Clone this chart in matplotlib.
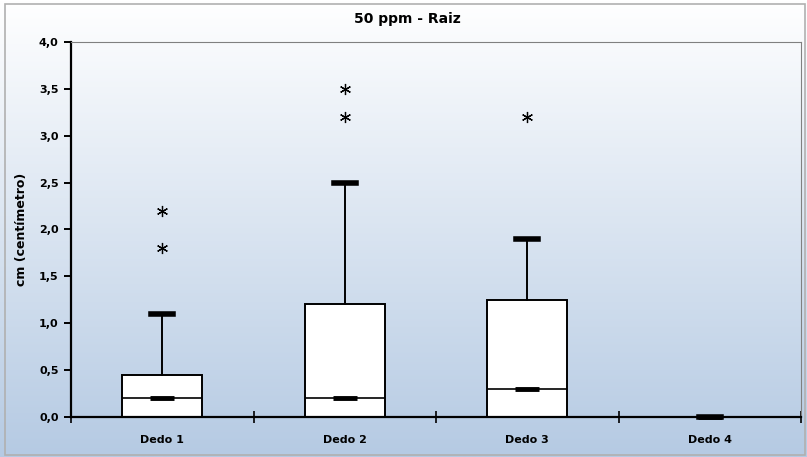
import numpy as np
import matplotlib
matplotlib.use("Agg")
import matplotlib.pyplot as plt
from matplotlib.ticker import FuncFormatter, MultipleLocator
from matplotlib.patches import Rectangle
from matplotlib.colors import LinearSegmentedColormap

# valores (cm)
categorias = ["Dedo 1", "Dedo 2", "Dedo 3", "Dedo 4"]
q1 = [0.0, 0.0, 0.0, 0.0]
mediana = [0.2, 0.2, 0.3, 0.0]
q3 = [0.45, 1.2, 1.25, 0.0]
whis_min = [0.0, 0.0, 0.0, 0.0]
whis_max = [1.1, 2.5, 1.9, 0.0]
outliers = [[1.8, 2.2], [3.2, 3.5], [3.2], []]

fig = plt.figure(figsize=(8.07, 4.57), dpi=100)

# fundo em degrade (branco em cima, azul claro embaixo)
bg = fig.add_axes([0, 0, 1, 1], zorder=-10)
cmap = LinearSegmentedColormap.from_list("bg", ["#ffffff", "#b5cae3"])
grad = np.linspace(0, 1, 256).reshape(-1, 1)
bg.imshow(grad, aspect="auto", cmap=cmap, extent=[0, 1, 0, 1], origin="upper")
bg.set_xlim(0, 1)
bg.set_ylim(0, 1)
bg.axis("off")
fig.patches.append(Rectangle((5 / 807, 2 / 457), 800 / 807, 451 / 457, transform=fig.transFigure,
                             fill=False, edgecolor="#b0b0b0", linewidth=1.2))

ax = fig.add_axes([71 / 807, 40.3 / 457, 730 / 807, 374.7 / 457])
ax.patch.set_alpha(0)

stats = []
for i, nome in enumerate(categorias):
    stats.append({"label": nome, "q1": q1[i], "med": mediana[i], "q3": q3[i],
                  "whislo": whis_min[i], "whishi": whis_max[i], "fliers": outliers[i],
                  "mean": mediana[i]})

pos = np.arange(len(categorias))
bp = ax.bxp(stats, positions=pos, widths=0.44, capwidths=0.12, patch_artist=True, showmeans=True,
            boxprops=dict(facecolor="white", edgecolor="black", linewidth=1.4),
            medianprops=dict(color="black", linewidth=1.2),
            whiskerprops=dict(color="black", linewidth=1.4),
            capprops=dict(color="black", linewidth=4),
            meanprops=dict(marker="_", markersize=17, markeredgewidth=3.5, markeredgecolor="black"),
            flierprops=dict(marker=(6, 2, 0), markersize=8, markeredgecolor="black",
                            markeredgewidth=0.9, linestyle="none"))
# sem traco no limite inferior (fica sobre o eixo)
for c in bp["caps"][0::2]:
    c.set_visible(False)
for c in bp["caps"][1::2]:
    c.set_clip_on(False)
for m in bp["means"]:
    m.set_clip_on(False)
    m.set_zorder(4)

ax.set_xlim(-0.5, len(categorias) - 0.5)
ax.set_ylim(0, 4.0)
ax.yaxis.set_major_locator(MultipleLocator(0.5))
ax.yaxis.set_major_formatter(FuncFormatter(lambda v, p: f"{v:.1f}".replace(".", ",")))
ax.set_xticks(pos)
ax.set_xticklabels(categorias)
ax.set_xticks(np.arange(-0.5, len(categorias)), minor=True)
ax.tick_params(axis="x", which="major", length=0, pad=13, labelsize=8)
ax.tick_params(axis="x", which="minor", direction="inout", length=8, width=1.2)
ax.tick_params(axis="y", direction="out", length=5, width=1.4, labelsize=8, pad=4)
for lab in ax.get_xticklabels() + ax.get_yticklabels():
    lab.set_fontweight("bold")

ax.spines["left"].set_linewidth(1.6)
ax.spines["bottom"].set_linewidth(1.6)
ax.spines["top"].set_color("#808080")
ax.spines["right"].set_color("#808080")

ax.set_ylabel("cm (centímetro)", fontsize=9, fontweight="bold", labelpad=8)
fig.text(0.505, 0.958, "50 ppm - Raiz", ha="center", va="center", fontsize=10, fontweight="bold")

fig.savefig("out.png", dpi=100)
